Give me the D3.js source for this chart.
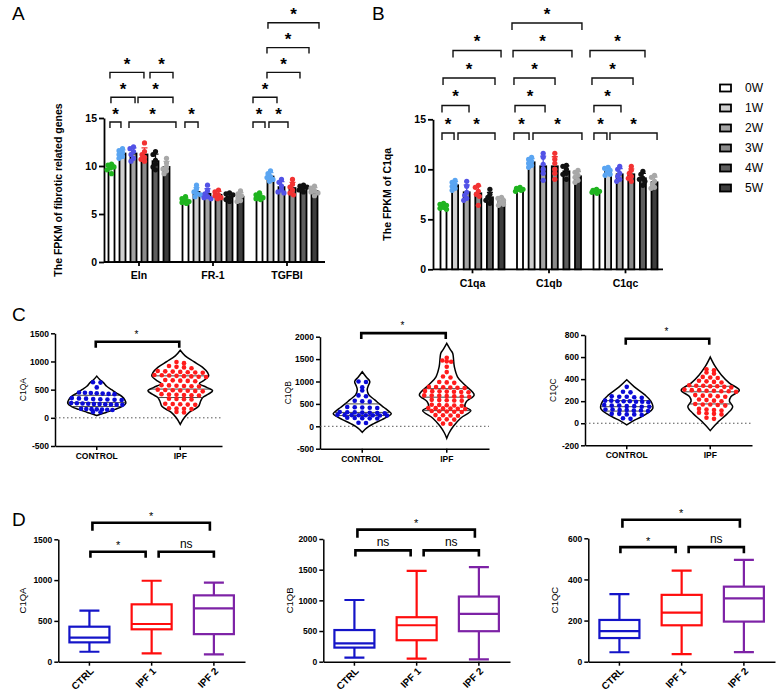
<!DOCTYPE html>
<html><head><meta charset="utf-8">
<script src="https://cdn.jsdelivr.net/npm/d3@7"></script>
<style>body{margin:0;background:#fff}svg{display:block}</style>
</head><body><svg id="c" width="778" height="692"></svg>
<script>
const FONT = "Arial, 'Liberation Sans', Helvetica, sans-serif";
// ---------------- DATA ----------------
const weeks = ["0W","1W","2W","3W","4W","5W"];
const weekFill = ["#ffffff","#cfcfcf","#a3a3a3","#8a8a8a","#5e5e5e","#3d3d3d"];
const weekDot = ["#1fb41f","#5aa5f2","#5252e6","#f23232","#111111","#a8a8a8"];
const yTicksAB = [0,5,10,15];

const genesA = ["Eln","FR-1","TGFBI"];
const meansEln = [9.8,11.3,11.3,11.2,10.5,9.9];
const meansFR1 = [6.4,7.3,7.1,7.0,6.8,6.8];
const meansTGFBI = [6.8,8.9,7.8,7.7,7.7,7.4];
const ptsEln = [[10.2,10.1,9.9,9.8,9.6,9.2],[11.8,11.6,11.4,11.2,11.0,10.8],[12.0,11.8,11.5,11.2,10.8,10.5],[12.4,11.5,11.2,10.9,10.7,10.5],[11.5,11.2,10.6,10.2,9.9,9.6],[10.8,10.3,9.9,9.7,9.5,9.2]];
const ptsFR1 = [[6.8,6.6,6.4,6.3,6.2,6.1],[8.0,7.6,7.3,7.1,7.0,6.8],[8.0,7.4,7.1,6.8,6.6,6.7],[7.5,7.3,7.0,6.9,6.7,6.6],[7.2,7.1,7.0,6.7,6.5,6.3],[7.4,7.1,6.9,6.7,6.4,6.3]];
const ptsTGFBI = [[7.2,7.0,6.8,6.7,6.6,6.5],[9.5,9.2,8.9,8.8,8.6,8.4],[8.6,8.3,7.9,7.5,7.3,7.2],[8.6,8.1,7.8,7.5,7.2,7.0],[8.0,7.9,7.8,7.7,7.5,7.3],[7.9,7.7,7.4,7.3,7.2,6.9]];
// significance brackets: [group, from bar index, to bar index, level]
const sigA = [["Eln",-0.14,0.86,0],["Eln",1.59,5.86,0],["Eln",-0.05,2.14,1],["Eln",2.41,5.59,1],["Eln",-0.14,2.95,2],["Eln",3.5,5.59,2],
  ["FR-1",-0.05,1.14,0],
  ["TGFBI",-0.59,0.5,0],["TGFBI",0.86,2.59,0],["TGFBI",-0.59,1.59,1],["TGFBI",0.68,3.68,2],["TGFBI",0.68,4.5,3],["TGFBI",0.77,5.41,4]];

const genesB = ["C1qa","C1qb","C1qc"];
const meansC1qa = [6.3,8.4,7.7,7.6,7.2,6.8];
const meansC1qb = [8.0,10.7,10.3,10.3,9.8,9.3];
const meansC1qc = [7.8,9.8,9.5,9.5,9.1,8.7];
const ptsC1qa = [[6.6,6.5,6.4,6.2,6.1,6.0],[8.9,8.7,8.5,8.3,8.1,7.9],[8.8,8.3,7.7,7.4,7.1,6.9],[8.4,8.2,7.8,7.5,7.3,6.4],[8.0,7.5,7.2,7.0,6.9,6.6],[7.2,7.1,6.9,6.7,6.5,6.4]];
const ptsC1qb = [[8.2,8.1,8.0,8.0,7.9,7.8],[11.2,11.0,10.8,10.6,10.4,10.2],[11.6,11.2,10.5,10.0,9.6,8.9],[11.6,11.0,10.6,10.0,9.6,9.0],[10.4,10.3,10.0,9.6,9.5,9.0],[9.9,9.7,9.4,9.2,8.9,8.7]];
const ptsC1qc = [[8.0,7.9,7.8,7.8,7.7,7.6],[10.2,10.1,9.9,9.7,9.5,9.4],[10.3,10.0,9.6,9.3,9.0,8.8],[10.3,9.9,9.6,9.3,9.1,8.8],[9.8,9.5,9.1,9.0,8.8,8.4],[9.4,9.2,8.8,8.5,8.2,8.1]];
const sigB = [["C1qa",-0.13,0.91,0],["C1qa",1.25,4.44,0],["C1qa",-0.13,2.2,1],["C1qa",-0.04,4.44,2],["C1qa",0.82,4.96,3],
  ["C1qb",-0.52,0.78,0],["C1qb",1.12,5.34,0],["C1qb",-0.43,2.16,1],["C1qb",-0.52,3.02,2],["C1qb",-0.6,4.48,3],["C1qb",-0.69,5.34,4],
  ["C1qc",-0.22,0.9,0],["C1qc",1.16,5.22,0],["C1qc",-0.22,2.11,1],["C1qc",-0.39,3.15,2],["C1qc",-0.56,4.18,3]];

// Panel C: violins
const violinCats = ["CONTROL","IPF"];
const ctrlC1QA = [630,625,540,450,445,440,435,430,425,420,350,345,340,335,330,325,320,315,262,258,254,250,247,244,240,237,234,230,160,157,154,150,147,144,140,105,100];
const ipfC1QA = [990,970,920,905,895,880,830,825,820,815,810,805,800,760,755,750,745,740,735,730,725,670,665,660,655,650,580,575,570,565,560,555,500,495,490,485,480,475,470,420,415,410,405,400,395,340,335,330,325,250,245,240,235,230,170,165,160,155,105,95];
const ctrlC1QB = [1000,990,870,800,690,670,570,560,550,430,425,420,415,410,320,315,310,305,300,296,292,256,253,250,248,246,244,242,240,190,186,182,178,174,80,75];
const ipfC1QB = [1530,1470,1450,1440,1330,1210,1110,1090,990,980,970,880,875,870,865,860,855,790,785,780,775,770,765,760,690,685,680,675,670,665,660,590,585,580,575,570,480,475,470,465,460,410,405,400,395,390,385,340,335,330,325,320,250,245,240,235,160,155,150,60,50];
const ctrlC1QC = [330,285,280,245,240,240,235,230,205,205,200,200,200,195,195,190,165,160,160,155,155,150,150,125,125,120,120,115,115,110,85,85,80,80,75,45,40];
const ipfC1QC = [490,480,460,450,420,415,410,385,380,375,370,345,340,340,335,335,330,325,305,300,300,295,295,290,290,285,255,250,250,245,240,215,210,205,200,175,170,170,165,160,130,125,120,115,95,90,85,80,50,40];
// violin density profiles: [value, relative density]
const densCtrlC1QA = [[740,0],[680,0.09],[620,0.21],[560,0.3],[500,0.45],[440,0.6],[380,0.76],[320,0.85],[260,0.88],[200,0.76],[150,0.55],[100,0.3],[60,0.09],[40,0]];
const densIpfC1QA = [[1200,0],[1100,0.15],[1000,0.4],[900,0.67],[800,0.83],[740,0.86],[650,0.68],[610,0.58],[540,0.8],[480,0.98],[420,0.85],[360,0.68],[300,0.62],[200,0.55],[100,0.28],[0,0.12],[-115,0]];
const densCtrlC1QB = [[1219,0],[1100,0.12],[1000,0.23],[900,0.18],[815,0.15],[700,0.2],[590,0.38],[500,0.52],[420,0.66],[340,0.8],[280,0.88],[220,0.78],[150,0.6],[60,0.35],[0,0.2],[-70,0.08],[-135,0]];
const densIpfC1QB = [[1853,0],[1700,0.12],[1630,0.18],[1330,0.23],[1100,0.33],[920,0.55],[700,0.83],[555,0.6],[440,0.55],[350,0.73],[180,0.42],[0,0.2],[-150,0.07],[-268,0]];
const densCtrlC1QC = [[394,0],[330,0.23],[257,0.55],[200,0.73],[136,0.79],[75,0.55],[30,0.25],[-15,0]];
const densIpfC1QC = [[600,0],[515,0.15],[440,0.33],[364,0.58],[300,0.88],[242,0.63],[200,0.58],[150,0.68],[90,0.53],[15,0.25],[-67,0]];
const quartCtrlC1QA = [200,270,400], quartIpfC1QA = [360,510,745];
const quartCtrlC1QB = [240,310,500], quartIpfC1QB = [350,650,840];
const quartCtrlC1QC = [110,150,205], quartIpfC1QC = [175,285,335];
const ticksC1QA = [-500,0,500,1000,1500], ticksC1QB = [-500,0,500,1000,1500,2000], ticksC1QC = [-200,0,200,400,600,800];
const sigC = [1350,2080,766];

// Panel D: box plots [min, q1, median, q3, max]
const boxCats = ["CTRL","IPF 1","IPF 2"];
const boxColors = ["#1414c8","#ff0d0d","#7d22a6"];
const boxC1QA = [[122,237,294,429,625],[103,397,462,703,992],[90,338,654,813,968]];
const boxC1QB = [[66,230,300,516,1006],[49,350,594,725,1482],[39,497,779,1062,1542]];
const boxC1QC = [[46,115,149,203,329],[37,177,239,325,443],[47,195,308,365,495]];
const ticksD1 = [0,500,1000,1500], ticksD2 = [0,500,1000,1500,2000], ticksD3 = [0,200,400,600];
const sigD1 = [["CTRL","IPF 1",1348,"*"],["IPF 1","IPF 2",1348,"ns"],["CTRL","IPF 2",1703,"*"]];
const sigD2 = [["CTRL","IPF 1",1814,"ns"],["IPF 1","IPF 2",1814,"ns"],["CTRL","IPF 2",2152,"*"]];
const sigD3 = [["CTRL","IPF 1",557,"*"],["IPF 1","IPF 2",557,"ns"],["CTRL","IPF 2",690,"*"]];

// ---------------- DRAWING ----------------
const svg = d3.select("#c");
svg.append("rect").attr("width",778).attr("height",692).attr("fill","#fff");
const plain = d => String(d);

function styleAxis(g, fs, bold, sw) {
  g.selectAll("path.domain").attr("stroke","#000").attr("stroke-width",sw);
  g.selectAll(".tick line").attr("stroke","#000").attr("stroke-width",sw);
  g.selectAll(".tick text").attr("font-family",FONT).attr("font-size",fs)
    .attr("font-weight",bold?"bold":"normal").attr("fill","#000");
}
function label(txt, x, y, size, opts={}) {
  return svg.append("text").attr("x",x).attr("y",y).attr("font-family",FONT).attr("font-size",size)
    .attr("font-weight",opts.bold?"bold":"normal").attr("text-anchor",opts.anchor||"start")
    .attr("fill","#000").text(txt);
}
// small beeswarm for bar-chart replicates
function swarm(vals, yS, minD, maxOff) {
  const pts = vals.map(v => ({v, y: yS(v)})).sort((a,b) => a.y - b.y);
  const placed = [];
  for (const p of pts) {
    let best = null, bestScore = -1, bestC = 0;
    for (let k = 0; k <= maxOff*2; k++) {
      const cands = k === 0 ? [0] : [-k*0.5, k*0.5];
      for (const c of cands) {
        const dmin = placed.length ? d3.min(placed, q => Math.hypot(q.x - c, q.y - p.y)) : Infinity;
        if (dmin >= minD) { best = c; break; }
        if (dmin > bestScore) { bestScore = dmin; bestC = c; }
      }
      if (best !== null) break;
    }
    p.x = best !== null ? best : bestC; placed.push(p);
  }
  return placed;
}
// row layout for violin dots: rows split where consecutive values are > gap px apart
function rowLayout(vals, yS, halfW, gap, space) {
  const pts = vals.map(v => ({v, y: yS(v)})).sort((a,b) => a.y - b.y);
  const rows = [];
  pts.forEach((p, i) => {
    if (i === 0 || p.y - pts[i-1].y > gap) rows.push([]);
    rows[rows.length-1].push(p);
  });
  rows.forEach((row, ri) => {
    const n = row.length, hw = Math.max(0, halfW(d3.mean(row, p => p.v)) - 2.5);
    const s = n > 1 ? Math.min(space, 2*hw/(n-1)) : 0;
    row.forEach((p, k) => { p.x = (k - (n-1)/2) * s; });
  });
  return pts;
}

// ----- Panels A & B -----
function barPanel(o) {
  const g = svg.append("g");
  const y = d3.scaleLinear().domain([0,15]).range([o.y0, o.y15]);
  const x0 = d3.scaleBand().domain(o.groups).range(o.band);
  const xi = d3.scaleLinear().domain([0,5]).range([-o.half, o.half]);
  const cx = (gn, i) => x0(gn) + x0.bandwidth()/2 + xi(i);
  const ya = g.append("g").attr("transform",`translate(${o.axisX},0)`)
    .call(d3.axisLeft(y).tickValues(yTicksAB).tickFormat(plain).tickSize(5).tickSizeOuter(0).tickPadding(2));
  styleAxis(ya, 10.5, true, 1.8);
  const xa = g.append("g").attr("transform",`translate(0,${o.y0})`)
    .call(d3.axisBottom(x0).tickSize(4).tickSizeOuter(0).tickPadding(6));
  xa.select("path.domain").remove();
  styleAxis(xa, 10.5, true, 1.8);
  g.append("line").attr("x1",o.axisX).attr("x2",o.axisEnd).attr("y1",o.y0).attr("y2",o.y0)
    .attr("stroke","#000").attr("stroke-width",1.8);
  o.groups.forEach((gn, gi) => {
    o.means[gi].forEach((m, i) => {
      const c = cx(gn, i);
      g.append("rect").attr("x",c-3).attr("width",6).attr("y",y(m)).attr("height",y(0)-y(m))
        .attr("fill",weekFill[i]).attr("stroke","#000").attr("stroke-width",1.8);
    });
    o.means[gi].forEach((m, i) => {
      const c = cx(gn, i), pts = o.points[gi][i], sd = d3.deviation(pts);
      g.append("path").attr("d",`M${c},${y(m)}V${y(m+sd)}M${c-3},${y(m+sd)}H${c+3}`)
        .attr("stroke",weekDot[i]).attr("stroke-width",1.3).attr("fill","none");
      swarm(pts, y, 3.6, 4.5).forEach(p => {
        g.append("circle").attr("cx",c+p.x).attr("cy",p.y).attr("r",2.6).attr("fill",weekDot[i]);
      });
    });
  });
  o.sig.forEach(([gn,a,b,lvl]) => {
    const x1 = cx(gn,a), x2 = cx(gn,b), yy = o.lvl0 - lvl*o.lvlStep;
    g.append("path").attr("d",`M${x1},${yy+o.leg}V${yy}H${x2}V${yy+o.leg}`)
      .attr("fill","none").attr("stroke","#111").attr("stroke-width",1.4);
    g.append("text").attr("x",(x1+x2)/2).attr("y",yy-o.starGap).attr("text-anchor","middle")
      .attr("font-family",FONT).attr("font-size",17).attr("font-weight","bold").text("*");
  });
  label(o.title, 0, 0, 10.5, {bold:true, anchor:"middle"})
    .attr("transform",`translate(${o.titleX},${(o.y0+o.y15)/2}) rotate(-90)`).attr("dy","0.35em");
}
barPanel({groups:genesA, means:[meansEln,meansFR1,meansTGFBI], points:[ptsEln,ptsFR1,ptsTGFBI],
  y0:262, y15:118, band:[102,324], half:27.5, axisX:104, axisEnd:325, sig:sigA,
  lvl0:122, lvlStep:24.8, leg:6, starGap:2.5, title:"The FPKM of fibrotic related genes", titleX:58});
barPanel({groups:genesB, means:[meansC1qa,meansC1qb,meansC1qc], points:[ptsC1qa,ptsC1qb,ptsC1qc],
  y0:269.3, y15:119.3, band:[434.25,663.75], half:29, axisX:433, axisEnd:663, sig:sigB,
  lvl0:133, lvlStep:27.5, leg:7, starGap:3.5, title:"The FPKM of C1qa", titleX:387});

// legend
const ly = d3.scalePoint().domain(weeks).range([88,188]);
weeks.forEach((w,i) => {
  svg.append("rect").attr("x",720).attr("y",ly(w)-3.5).attr("width",11).attr("height",7)
    .attr("fill",weekFill[i]).attr("stroke","#000").attr("stroke-width",1.8);
  label(w, 745, ly(w)+4.3, 12);
});

// ----- Panel C -----
function violinPanel(o) {
  const g = svg.append("g");
  const y = d3.scaleLinear().domain([o.ticks[0], o.ticks[o.ticks.length-1]]).range([o.yBot, o.yTop]);
  const x = d3.scaleBand().domain(violinCats).range([o.axisX, o.axisEnd]);
  const w = d3.scaleLinear().domain([0,1]).range([0,33]);
  const ya = g.append("g").attr("transform",`translate(${o.axisX},0)`)
    .call(d3.axisLeft(y).tickValues(o.ticks).tickFormat(plain).tickSize(4).tickSizeOuter(0).tickPadding(2));
  styleAxis(ya, 8.5, true, 1.5);
  const xa = g.append("g").attr("transform",`translate(0,${o.yBot})`)
    .call(d3.axisBottom(x).tickSize(4).tickSizeOuter(0).tickPadding(3));
  styleAxis(xa, 8.5, true, 1.5);
  g.append("line").attr("x1",o.axisX).attr("x2",o.axisEnd).attr("y1",y(0)).attr("y2",y(0))
    .attr("stroke","#555").attr("stroke-width",1).attr("stroke-dasharray","1.5,2.5");
  violinCats.forEach((cat, ci) => {
    const c = x(cat) + x.bandwidth()/2;
    const prof = o.dens[ci];
    const area = d3.area().y(d => y(d[0])).x0(d => c - w(d[1])).x1(d => c + w(d[1])).curve(d3.curveCatmullRom);
    g.append("path").attr("d", area(prof)).attr("fill","#fff").attr("stroke","#000").attr("stroke-width",1.5);
    const dw = d3.scaleLinear().domain(prof.map(d=>d[0])).range(prof.map(d=>d[1])).clamp(true);
    o.quart[ci].forEach(q => {
      g.append("line").attr("x1",c-w(dw(q))).attr("x2",c+w(dw(q))).attr("y1",y(q)).attr("y2",y(q))
        .attr("stroke","#333").attr("stroke-width",0.9);
    });
    rowLayout(o.dots[ci], y, v => w(dw(v)), 1.2, 7.5).forEach(p => {
      g.append("circle").attr("cx",c+p.x).attr("cy",p.y).attr("r",2.3).attr("fill", ci===0 ? "#0b0bd6" : "#ff1c1c");
    });
  });
  const c0 = x("CONTROL") + x.bandwidth()/2, c1 = x("IPF") + x.bandwidth()/2, by = y(o.sig);
  g.append("path").attr("d",`M${c0-1},${by+6}V${by}H${c1-1}V${by+6}`).attr("fill","none")
    .attr("stroke","#000").attr("stroke-width",2.6);
  g.append("text").attr("x",(c0+c1)/2-2).attr("y",by-4).attr("text-anchor","middle")
    .attr("font-family",FONT).attr("font-size",10).text("*");
  label(o.title, 0, 0, 8.5, {anchor:"middle"})
    .attr("transform",`translate(${o.titleX},${(o.yBot+o.yTop)/2}) rotate(-90)`).attr("dy","0.35em");
}
violinPanel({ticks:ticksC1QA, yBot:446, yTop:333.3, axisX:55, axisEnd:222, dens:[densCtrlC1QA,densIpfC1QA],
  quart:[quartCtrlC1QA,quartIpfC1QA], dots:[ctrlC1QA,ipfC1QA], sig:sigC[0], title:"C1QA", titleX:23});
violinPanel({ticks:ticksC1QB, yBot:448.7, yTop:336.7, axisX:320, axisEnd:489, dens:[densCtrlC1QB,densIpfC1QB],
  quart:[quartCtrlC1QB,quartIpfC1QB], dots:[ctrlC1QB,ipfC1QB], sig:sigC[1], title:"C1QB", titleX:288});
violinPanel({ticks:ticksC1QC, yBot:445.3, yTop:335, axisX:585, axisEnd:752, dens:[densCtrlC1QC,densIpfC1QC],
  quart:[quartCtrlC1QC,quartIpfC1QC], dots:[ctrlC1QC,ipfC1QC], sig:sigC[2], title:"C1QC", titleX:553});

// ----- Panel D -----
function boxPanel(o) {
  const g = svg.append("g");
  const y = d3.scaleLinear().domain([0, o.ticks[o.ticks.length-1]]).range([661.7, o.yTop]);
  const x = d3.scaleBand().domain(boxCats).range([o.axisX, o.axisEnd]);
  const cx = k => x(k) + x.bandwidth()/2;
  const ya = g.append("g").attr("transform",`translate(${o.axisX},0)`)
    .call(d3.axisLeft(y).tickValues(o.ticks).tickFormat(plain).tickSize(4).tickSizeOuter(0).tickPadding(2));
  styleAxis(ya, 8.5, true, 1.5);
  const xa = g.append("g").attr("transform",`translate(0,661.7)`)
    .call(d3.axisBottom(x).tickSize(4).tickSizeOuter(0));
  styleAxis(xa, 10, true, 1.5);
  xa.selectAll(".tick text").attr("text-anchor","end").attr("dy",0).attr("y",0)
    .attr("transform","translate(5,10) rotate(-45)");
  o.data.forEach((d, i) => {
    const c = cx(boxCats[i]), col = boxColors[i];
    const [mn,q1,md,q3,mx] = d;
    const s = {stroke:col, "stroke-width":2.2, fill:"none"};
    const add = (tag) => { const e = g.append(tag); Object.entries(s).forEach(([k,v])=>e.attr(k,v)); return e; };
    add("path").attr("d",`M${c},${y(q3)}V${y(mx)}M${c-10},${y(mx)}H${c+10}M${c},${y(q1)}V${y(mn)}M${c-10},${y(mn)}H${c+10}`);
    add("rect").attr("x",c-20).attr("width",40).attr("y",y(q3)).attr("height",y(q1)-y(q3));
    add("line").attr("x1",c-20).attr("x2",c+20).attr("y1",y(md)).attr("y2",y(md));
  });
  o.sig.forEach(([a,b,lv,txt]) => {
    const ia = boxCats.indexOf(a), ib = boxCats.indexOf(b);
    const x1 = cx(a) + (ia===1 ? 7 : (ib===2 && ia===0 ? 3 : 1));
    const x2 = cx(b) - (ib===1 ? 6 : (ia===0 ? 4 : 0));
    const yy = y(lv), leg = (ia===0 && ib===2) ? 8 : 6;
    g.append("path").attr("d",`M${x1},${yy+leg}V${yy}H${x2}V${yy+leg}`).attr("fill","none")
      .attr("stroke","#000").attr("stroke-width",2.6);
    g.append("text").attr("x",(x1+x2)/2).attr("y", txt==="ns" ? yy-4 : yy-2.5).attr("text-anchor","middle")
      .attr("font-family",FONT).attr("font-size", txt==="ns" ? 12 : 11).text(txt);
  });
  label(o.title, 0, 0, 9.5, {anchor:"middle"})
    .attr("transform",`translate(${o.titleX},${(661.7+o.yTop)/2}) rotate(-90)`).attr("dy","0.35em");
}
boxPanel({ticks:ticksD1, yTop:539.3, axisX:58.3, axisEnd:245, data:boxC1QA, sig:sigD1, title:"C1QA", titleX:23});
boxPanel({ticks:ticksD2, yTop:539, axisX:323.3, axisEnd:510, data:boxC1QB, sig:sigD2, title:"C1QB", titleX:290});
boxPanel({ticks:ticksD3, yTop:538.3, axisX:588.3, axisEnd:775, data:boxC1QC, sig:sigD3, title:"C1QC", titleX:555});

// panel letters
label("A", 12, 20, 19);
label("B", 372, 20, 19);
label("C", 12, 321, 19);
label("D", 12, 526, 19);
</script></body></html>
